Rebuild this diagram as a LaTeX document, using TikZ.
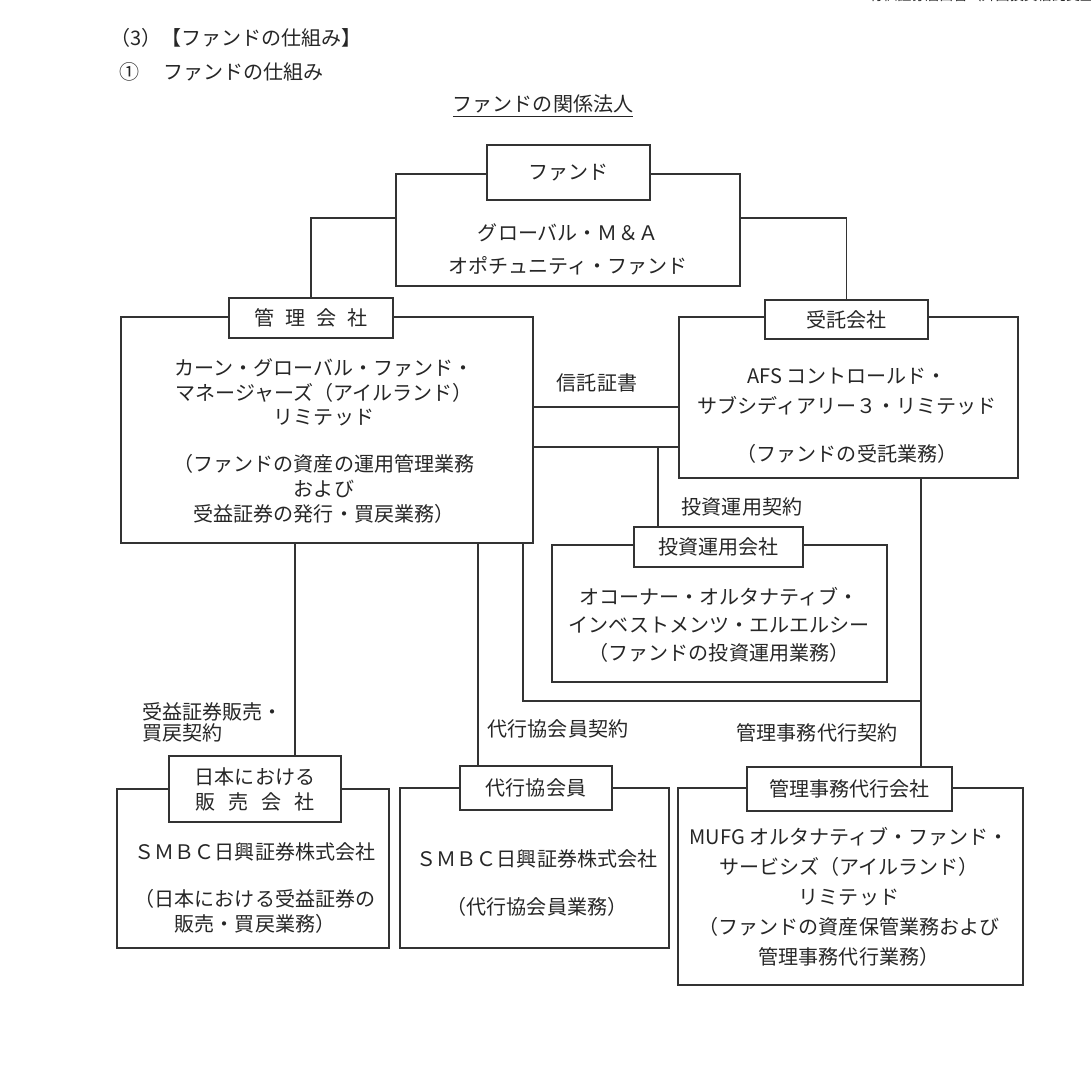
\documentclass[tikz,border=0pt]{standalone}
\usepackage{fontspec}
\newfontfamily\jpfont{Noto Sans CJK JP}
\usepackage{tikz}
\usetikzlibrary{positioning,fit,calc}

\begin{document}
\begin{tikzpicture}[x=0.02cm, y=-0.02cm,
  every node/.style={font=\jpfont\fontsize{11.4}{14.2}\selectfont, text=black!85},
  mainbox/.style={draw=black!80, line width=1pt, inner sep=0pt},
  headbox/.style={draw=black!80, line width=1pt, fill=white, inner sep=0pt, align=center},
  bodytext/.style={align=center},
  pact/.style={align=center, inner sep=1pt},
  link/.style={draw=black!80, line width=1pt}]

\useasboundingbox (0,0) rectangle (1091,1085);

% Heading
\node[anchor=west, font=\jpfont\fontsize{8}{8}\selectfont] (page) at (863,-5) {有価証券届出書（外国投資信託受益証券）};
\node[anchor=west] (sec) at (104,38) {（3）【ファンドの仕組み】};
\node[anchor=west] (sub) at (113,72) {①\hspace{1.2em}ファンドの仕組み};
\node (chart) at (543,106) {\underline{ファンドの関係法人}};

% Boxes
\node[mainbox, fit={(396,174) (740,286)}] (fund) {};
\node[mainbox, fit={(121,317) (533,543)}] (mgr) {};
\node[mainbox, fit={(679,317) (1018,478)}] (trs) {};
\node[mainbox, fit={(552,545) (887,682)}] (inv) {};
\node[mainbox, fit={(117,789) (389,948)}] (sal) {};
\node[mainbox, fit={(400,788) (669,948)}] (agt) {};
\node[mainbox, fit={(678,788) (1023,985)}] (adm) {};

\node[headbox, minimum width=3.26cm, minimum height=1.1cm] (fundT) at (568.5,172.5) {ファンド};
\node[headbox, minimum width=3.28cm, minimum height=0.8cm] (mgrT) at (311,318) {管\hspace{.55em}理\hspace{.55em}会\hspace{.55em}社};
\node[headbox, minimum width=3.26cm, minimum height=0.78cm] (trsT) at (846.5,319.5) {受託会社};
\node[headbox, minimum width=3.38cm, minimum height=0.8cm] (invT) at (718.5,547) {投資運用会社};
\node[headbox, minimum width=3.44cm, minimum height=1.32cm] (salT) at (255,789) {日本における\\販\hspace{.65em}売\hspace{.65em}会\hspace{.65em}社};
\node[headbox, minimum width=3.04cm, minimum height=0.88cm] (agtT) at (536,788) {代行協会員};
\node[headbox, minimum width=4.1cm, minimum height=0.88cm] (admT) at (849.5,789) {管理事務代行会社};

% Box texts
\node[bodytext] (fundN) at (568,249) {グローバル・Ｍ＆Ａ\\[0.16cm]オポチュニティ・ファンド};
\node[bodytext] (mgrN) at (324,441) {カーン・グローバル・ファンド・\\マネージャーズ（アイルランド）\\リミテッド\\[0.44cm]（ファンドの資産の運用管理業務\\および\\受益証券の発行・買戻業務）};
\node[bodytext] (trsN) at (847,416) {AFS コントロールド・\\[0.1cm]サブシディアリー３・リミテッド\\[0.46cm]（ファンドの受託業務）};
\node[bodytext] (invN) at (719,625) {オコーナー・オルタナティブ・\\[0.06cm]インベストメンツ・エルエルシー\\[0.06cm]（ファンドの投資運用業務）};
\node[bodytext] (salN) at (255,888) {ＳＭＢＣ日興証券株式会社\\[0.46cm]（日本における受益証券の\\販売・買戻業務）};
\node[bodytext] (agtN) at (537,883) {ＳＭＢＣ日興証券株式会社\\[0.48cm]（代行協会員業務）};
\node[bodytext] (admN) at (849,897) {MUFG オルタナティブ・ファンド・\\[0.1cm]サービシズ（アイルランド）\\[0.1cm]リミテッド\\[0.1cm]（ファンドの資産保管業務および\\[0.1cm]管理事務代行業務）};

% Contracts
\node[pact] (deedL) at (597,383) {信託証書};
\node[pact] (invL) at (742,507) {投資運用契約};
\node[pact, anchor=west, align=left] (salL) at (140,722) {受益証券販売・\\[-0.08cm]買戻契約};
\node[pact] (agtL) at (558,729) {代行協会員契約};
\node[pact] (admL) at (817,733) {管理事務代行契約};

% Connectors
\draw[link] ([yshift=0.24cm]fund.west) -| (mgrT.north);
\draw[link] ([yshift=0.24cm]fund.east) -| (trsT.north);

\coordinate (deed) at ([yshift=0.46cm]mgr.east);
\draw[link] (deed) -- (deed -| trs.west);
\coordinate (invline) at ([yshift=-0.34cm]mgr.east);
\draw[link] (invline) -- (invline -| trs.west);
\coordinate (invdrop) at ([xshift=-1.21cm]invT.north);
\draw[link] (invdrop |- invline) -- (invdrop);

\coordinate (admdrop) at ([xshift=1.45cm]trs.south);
\draw[link] (admdrop) -- (admdrop |- admT.north);
\coordinate (corner) at (921,701);
\draw[link] ([xshift=3.92cm]mgr.south) |- (corner);

\coordinate (saledrop) at ([xshift=0.8cm]salT.north);
\draw[link] (saledrop |- mgr.south) -- (saledrop);
\coordinate (agtdrop) at ([xshift=-1.16cm]agtT.north);
\draw[link] (agtdrop |- mgr.south) -- (agtdrop);

\end{tikzpicture}
\end{document}
